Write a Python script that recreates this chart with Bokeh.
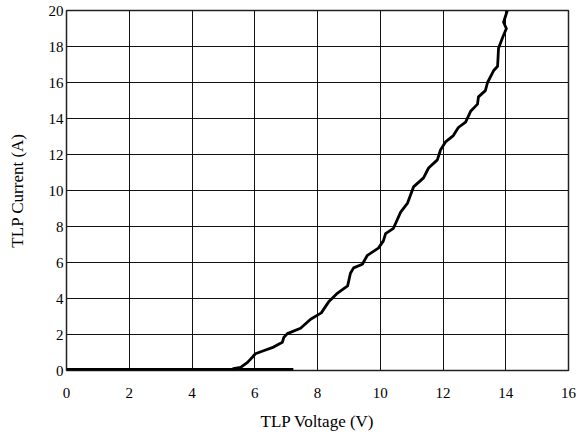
from bokeh.plotting import figure
from bokeh.embed import file_html
from bokeh.resources import INLINE
from bokeh.models import Range1d, FixedTicker

# Flat off-state segment (thick)
off_voltage = [0.0, 7.23]
off_current = [0.0, 0.0]

# TLP I-V curve
tlp_voltage = [5.25, 5.32, 5.55, 5.77, 5.93, 6.02, 6.28, 6.6, 6.88, 6.93, 7.04, 7.46, 7.78, 8.12,
               8.35, 8.64, 8.96, 9.05, 9.15, 9.43, 9.59, 9.94, 10.1, 10.17, 10.42, 10.65, 10.87,
               11.06, 11.38, 11.54, 11.82, 11.92, 12.08, 12.33, 12.49, 12.72, 12.88, 13.1, 13.13,
               13.35, 13.42, 13.61, 13.74, 13.77, 13.9, 14.02, 13.93, 14.05]
tlp_current = [0.0, 0.1, 0.17, 0.45, 0.75, 0.93, 1.1, 1.3, 1.57, 1.85, 2.05, 2.35, 2.85, 3.2,
               3.8, 4.3, 4.7, 5.4, 5.7, 5.9, 6.4, 6.8, 7.2, 7.6, 7.9, 8.8, 9.3,
               10.2, 10.7, 11.25, 11.7, 12.25, 12.7, 13.05, 13.5, 13.8, 14.4, 14.8, 15.2,
               15.55, 16.0, 16.65, 16.9, 17.9, 18.5, 19.0, 19.35, 20.0]

x_ticks = [0, 2, 4, 6, 8, 10, 12, 14, 16]
y_ticks = [0, 2, 4, 6, 8, 10, 12, 14, 16, 18, 20]

p = figure(frame_width=502, frame_height=360, output_backend="svg", toolbar_location=None,
           x_range=Range1d(0, 16), y_range=Range1d(0, 20),
           min_border_left=66, min_border_top=10, min_border_right=9, min_border_bottom=60)

p.background_fill_color = "white"
p.border_fill_color = "white"
p.outline_line_color = "#222222"
p.outline_line_width = 1.5

font = "Liberation Serif"
for ax in (p.xaxis[0], p.yaxis[0]):
    ax.major_label_text_font = font
    ax.major_label_text_font_size = "15px"
    ax.major_label_text_color = "black"
    ax.axis_label_text_font = font
    ax.axis_label_text_font_size = "17px"
    ax.axis_label_text_font_style = "normal"
    ax.axis_label_text_color = "black"
    ax.major_tick_out = 0
    ax.major_tick_in = 0
    ax.minor_tick_out = 0
    ax.minor_tick_in = 0
    ax.axis_line_color = None

p.xaxis.ticker = FixedTicker(ticks=x_ticks)
p.yaxis.ticker = FixedTicker(ticks=y_ticks)
p.xaxis.axis_label = "TLP Voltage (V)"
p.yaxis.axis_label = "TLP Current (A)"
p.xaxis.major_label_standoff = 17
p.xaxis.axis_label_standoff = 11
p.yaxis.major_label_standoff = 3
p.yaxis.axis_label_standoff = 19

p.xgrid.ticker = FixedTicker(ticks=x_ticks)
p.ygrid.ticker = FixedTicker(ticks=y_ticks)
for g in (p.xgrid[0], p.ygrid[0]):
    g.grid_line_color = "#111111"
    g.grid_line_width = 1

p.line(off_voltage, off_current, line_color="black", line_width=5)
p.line(tlp_voltage, tlp_current, line_color="black", line_width=2.8, line_join="round")

open("out.html", "w").write(file_html(p, INLINE))
